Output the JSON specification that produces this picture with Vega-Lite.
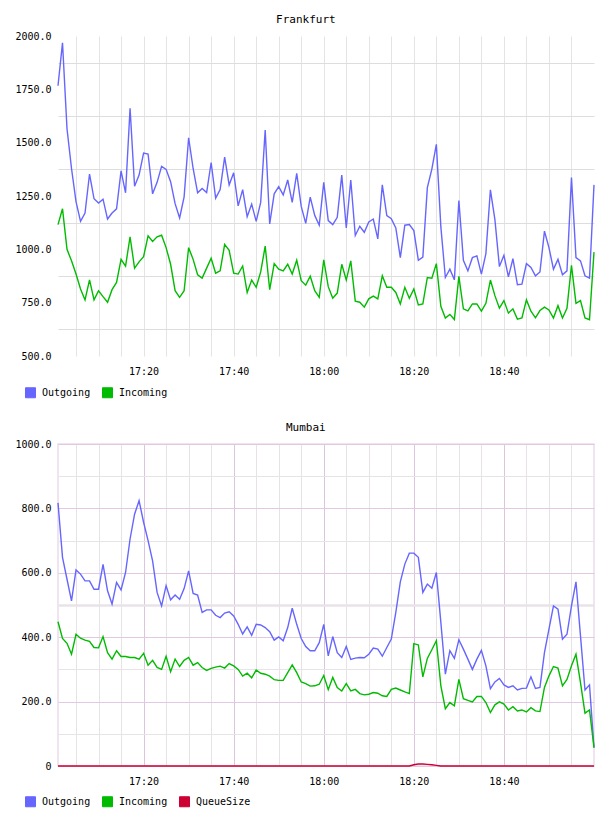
{
  "$schema": "https://vega.github.io/schema/vega-lite/v6.json",
  "background": "white",
  "padding": {"left": 14, "top": 14, "right": 10, "bottom": 4},
  "spacing": 21,
  "config": {
    "font": "DejaVu Sans Mono",
    "view": {"stroke": null},
    "axis": {
      "labelFont": "DejaVu Sans Mono",
      "labelFontSize": 10,
      "labelColor": "#000000",
      "ticks": false,
      "domain": false,
      "labelOverlap": false,
      "labelFlush": false
    },
    "title": {
      "font": "DejaVu Sans Mono",
      "fontSize": 11,
      "fontWeight": "normal",
      "color": "#000000",
      "anchor": "middle",
      "frame": "bounds",
      "offset": 6
    },
    "legend": {
      "orient": "none",
      "legendX": -33,
      "direction": "horizontal",
      "padding": 0,
      "symbolType": "square",
      "symbolSize": 100,
      "labelFont": "DejaVu Sans Mono",
      "labelFontSize": 10,
      "labelColor": "#000000",
      "labelOffset": 6,
      "columnPadding": 9
    }
  },
  "datasets": {
    "frankfurt": [
      {"t": "17:01", "Outgoing": 1767, "Incoming": 1116},
      {"t": "17:02", "Outgoing": 1968, "Incoming": 1190},
      {"t": "17:03", "Outgoing": 1565, "Incoming": 1000},
      {"t": "17:04", "Outgoing": 1379, "Incoming": 946},
      {"t": "17:05", "Outgoing": 1224, "Incoming": 884},
      {"t": "17:06", "Outgoing": 1131, "Incoming": 814},
      {"t": "17:07", "Outgoing": 1170, "Incoming": 763},
      {"t": "17:08", "Outgoing": 1353, "Incoming": 857},
      {"t": "17:09", "Outgoing": 1237, "Incoming": 763},
      {"t": "17:10", "Outgoing": 1217, "Incoming": 806},
      {"t": "17:11", "Outgoing": 1235, "Incoming": 778},
      {"t": "17:12", "Outgoing": 1142, "Incoming": 752},
      {"t": "17:13", "Outgoing": 1170, "Incoming": 811},
      {"t": "17:14", "Outgoing": 1190, "Incoming": 845},
      {"t": "17:15", "Outgoing": 1368, "Incoming": 953},
      {"t": "17:16", "Outgoing": 1265, "Incoming": 921},
      {"t": "17:17", "Outgoing": 1661, "Incoming": 1059},
      {"t": "17:18", "Outgoing": 1296, "Incoming": 912},
      {"t": "17:19", "Outgoing": 1348, "Incoming": 941},
      {"t": "17:20", "Outgoing": 1451, "Incoming": 966},
      {"t": "17:21", "Outgoing": 1446, "Incoming": 1063},
      {"t": "17:22", "Outgoing": 1260, "Incoming": 1037},
      {"t": "17:23", "Outgoing": 1314, "Incoming": 1059},
      {"t": "17:24", "Outgoing": 1389, "Incoming": 1066},
      {"t": "17:25", "Outgoing": 1375, "Incoming": 1008},
      {"t": "17:26", "Outgoing": 1317, "Incoming": 930},
      {"t": "17:27", "Outgoing": 1214, "Incoming": 806},
      {"t": "17:28", "Outgoing": 1147, "Incoming": 775},
      {"t": "17:29", "Outgoing": 1246, "Incoming": 806},
      {"t": "17:30", "Outgoing": 1523, "Incoming": 1008},
      {"t": "17:31", "Outgoing": 1379, "Incoming": 953},
      {"t": "17:32", "Outgoing": 1265, "Incoming": 881},
      {"t": "17:33", "Outgoing": 1285, "Incoming": 865},
      {"t": "17:34", "Outgoing": 1266, "Incoming": 912},
      {"t": "17:35", "Outgoing": 1407, "Incoming": 958},
      {"t": "17:36", "Outgoing": 1240, "Incoming": 888},
      {"t": "17:37", "Outgoing": 1280, "Incoming": 899},
      {"t": "17:38", "Outgoing": 1432, "Incoming": 1023},
      {"t": "17:39", "Outgoing": 1302, "Incoming": 995},
      {"t": "17:40", "Outgoing": 1359, "Incoming": 888},
      {"t": "17:41", "Outgoing": 1204, "Incoming": 884},
      {"t": "17:42", "Outgoing": 1280, "Incoming": 922},
      {"t": "17:43", "Outgoing": 1153, "Incoming": 798},
      {"t": "17:44", "Outgoing": 1212, "Incoming": 856},
      {"t": "17:45", "Outgoing": 1131, "Incoming": 822},
      {"t": "17:46", "Outgoing": 1220, "Incoming": 894},
      {"t": "17:47", "Outgoing": 1559, "Incoming": 1015},
      {"t": "17:48", "Outgoing": 1119, "Incoming": 811},
      {"t": "17:49", "Outgoing": 1260, "Incoming": 933},
      {"t": "17:50", "Outgoing": 1294, "Incoming": 907},
      {"t": "17:51", "Outgoing": 1255, "Incoming": 899},
      {"t": "17:52", "Outgoing": 1325, "Incoming": 930},
      {"t": "17:53", "Outgoing": 1220, "Incoming": 884},
      {"t": "17:54", "Outgoing": 1356, "Incoming": 949},
      {"t": "17:55", "Outgoing": 1201, "Incoming": 853},
      {"t": "17:56", "Outgoing": 1122, "Incoming": 832},
      {"t": "17:57", "Outgoing": 1245, "Incoming": 874},
      {"t": "17:58", "Outgoing": 1159, "Incoming": 806},
      {"t": "17:59", "Outgoing": 1113, "Incoming": 775},
      {"t": "18:00", "Outgoing": 1314, "Incoming": 951},
      {"t": "18:01", "Outgoing": 1135, "Incoming": 825},
      {"t": "18:02", "Outgoing": 1116, "Incoming": 771},
      {"t": "18:03", "Outgoing": 1150, "Incoming": 795},
      {"t": "18:04", "Outgoing": 1348, "Incoming": 930},
      {"t": "18:05", "Outgoing": 1100, "Incoming": 856},
      {"t": "18:06", "Outgoing": 1325, "Incoming": 946},
      {"t": "18:07", "Outgoing": 1065, "Incoming": 757},
      {"t": "18:08", "Outgoing": 1108, "Incoming": 752},
      {"t": "18:09", "Outgoing": 1080, "Incoming": 729},
      {"t": "18:10", "Outgoing": 1128, "Incoming": 768},
      {"t": "18:11", "Outgoing": 1142, "Incoming": 781},
      {"t": "18:12", "Outgoing": 1049, "Incoming": 768},
      {"t": "18:13", "Outgoing": 1302, "Incoming": 876},
      {"t": "18:14", "Outgoing": 1158, "Incoming": 822},
      {"t": "18:15", "Outgoing": 1144, "Incoming": 822},
      {"t": "18:16", "Outgoing": 1100, "Incoming": 798},
      {"t": "18:17", "Outgoing": 961, "Incoming": 744},
      {"t": "18:18", "Outgoing": 1113, "Incoming": 822},
      {"t": "18:19", "Outgoing": 1116, "Incoming": 771},
      {"t": "18:20", "Outgoing": 1088, "Incoming": 814},
      {"t": "18:21", "Outgoing": 949, "Incoming": 739},
      {"t": "18:22", "Outgoing": 964, "Incoming": 744},
      {"t": "18:23", "Outgoing": 1289, "Incoming": 868},
      {"t": "18:24", "Outgoing": 1376, "Incoming": 865},
      {"t": "18:25", "Outgoing": 1492, "Incoming": 933},
      {"t": "18:26", "Outgoing": 1105, "Incoming": 733},
      {"t": "18:27", "Outgoing": 868, "Incoming": 678},
      {"t": "18:28", "Outgoing": 907, "Incoming": 695},
      {"t": "18:29", "Outgoing": 857, "Incoming": 671},
      {"t": "18:30", "Outgoing": 1229, "Incoming": 873},
      {"t": "18:31", "Outgoing": 949, "Incoming": 721},
      {"t": "18:32", "Outgoing": 899, "Incoming": 712},
      {"t": "18:33", "Outgoing": 961, "Incoming": 744},
      {"t": "18:34", "Outgoing": 969, "Incoming": 744},
      {"t": "18:35", "Outgoing": 884, "Incoming": 710},
      {"t": "18:36", "Outgoing": 980, "Incoming": 747},
      {"t": "18:37", "Outgoing": 1279, "Incoming": 856},
      {"t": "18:38", "Outgoing": 1139, "Incoming": 783},
      {"t": "18:39", "Outgoing": 919, "Incoming": 724},
      {"t": "18:40", "Outgoing": 972, "Incoming": 760},
      {"t": "18:41", "Outgoing": 871, "Incoming": 701},
      {"t": "18:42", "Outgoing": 956, "Incoming": 721},
      {"t": "18:43", "Outgoing": 834, "Incoming": 673},
      {"t": "18:44", "Outgoing": 837, "Incoming": 678},
      {"t": "18:45", "Outgoing": 933, "Incoming": 763},
      {"t": "18:46", "Outgoing": 915, "Incoming": 710},
      {"t": "18:47", "Outgoing": 876, "Incoming": 679},
      {"t": "18:48", "Outgoing": 894, "Incoming": 713},
      {"t": "18:49", "Outgoing": 1085, "Incoming": 729},
      {"t": "18:50", "Outgoing": 1008, "Incoming": 716},
      {"t": "18:51", "Outgoing": 907, "Incoming": 678},
      {"t": "18:52", "Outgoing": 953, "Incoming": 736},
      {"t": "18:53", "Outgoing": 881, "Incoming": 678},
      {"t": "18:54", "Outgoing": 899, "Incoming": 724},
      {"t": "18:55", "Outgoing": 1336, "Incoming": 925},
      {"t": "18:56", "Outgoing": 961, "Incoming": 747},
      {"t": "18:57", "Outgoing": 946, "Incoming": 760},
      {"t": "18:58", "Outgoing": 876, "Incoming": 678},
      {"t": "18:59", "Outgoing": 865, "Incoming": 670},
      {"t": "19:00", "Outgoing": 1302, "Incoming": 987}
    ],
    "mumbai": [
      {"t": "17:01", "Outgoing": 817, "Incoming": 448, "QueueSize": 0},
      {"t": "17:02", "Outgoing": 648, "Incoming": 396, "QueueSize": 0},
      {"t": "17:03", "Outgoing": 580, "Incoming": 381, "QueueSize": 0},
      {"t": "17:04", "Outgoing": 513, "Incoming": 347, "QueueSize": 0},
      {"t": "17:05", "Outgoing": 609, "Incoming": 409, "QueueSize": 0},
      {"t": "17:06", "Outgoing": 596, "Incoming": 397, "QueueSize": 0},
      {"t": "17:07", "Outgoing": 575, "Incoming": 391, "QueueSize": 0},
      {"t": "17:08", "Outgoing": 575, "Incoming": 387, "QueueSize": 0},
      {"t": "17:09", "Outgoing": 549, "Incoming": 368, "QueueSize": 0},
      {"t": "17:10", "Outgoing": 549, "Incoming": 367, "QueueSize": 0},
      {"t": "17:11", "Outgoing": 626, "Incoming": 402, "QueueSize": 0},
      {"t": "17:12", "Outgoing": 544, "Incoming": 352, "QueueSize": 0},
      {"t": "17:13", "Outgoing": 503, "Incoming": 332, "QueueSize": 0},
      {"t": "17:14", "Outgoing": 570, "Incoming": 358, "QueueSize": 0},
      {"t": "17:15", "Outgoing": 547, "Incoming": 340, "QueueSize": 0},
      {"t": "17:16", "Outgoing": 601, "Incoming": 340, "QueueSize": 0},
      {"t": "17:17", "Outgoing": 705, "Incoming": 337, "QueueSize": 0},
      {"t": "17:18", "Outgoing": 782, "Incoming": 337, "QueueSize": 0},
      {"t": "17:19", "Outgoing": 824, "Incoming": 332, "QueueSize": 0},
      {"t": "17:20", "Outgoing": 757, "Incoming": 350, "QueueSize": 0},
      {"t": "17:21", "Outgoing": 700, "Incoming": 313, "QueueSize": 0},
      {"t": "17:22", "Outgoing": 637, "Incoming": 328, "QueueSize": 0},
      {"t": "17:23", "Outgoing": 539, "Incoming": 306, "QueueSize": 0},
      {"t": "17:24", "Outgoing": 497, "Incoming": 300, "QueueSize": 0},
      {"t": "17:25", "Outgoing": 560, "Incoming": 341, "QueueSize": 0},
      {"t": "17:26", "Outgoing": 516, "Incoming": 293, "QueueSize": 0},
      {"t": "17:27", "Outgoing": 531, "Incoming": 332, "QueueSize": 0},
      {"t": "17:28", "Outgoing": 518, "Incoming": 309, "QueueSize": 0},
      {"t": "17:29", "Outgoing": 551, "Incoming": 328, "QueueSize": 0},
      {"t": "17:30", "Outgoing": 606, "Incoming": 337, "QueueSize": 0},
      {"t": "17:31", "Outgoing": 536, "Incoming": 313, "QueueSize": 0},
      {"t": "17:32", "Outgoing": 531, "Incoming": 321, "QueueSize": 0},
      {"t": "17:33", "Outgoing": 477, "Incoming": 306, "QueueSize": 0},
      {"t": "17:34", "Outgoing": 485, "Incoming": 297, "QueueSize": 0},
      {"t": "17:35", "Outgoing": 485, "Incoming": 303, "QueueSize": 0},
      {"t": "17:36", "Outgoing": 468, "Incoming": 307, "QueueSize": 0},
      {"t": "17:37", "Outgoing": 461, "Incoming": 310, "QueueSize": 0},
      {"t": "17:38", "Outgoing": 475, "Incoming": 304, "QueueSize": 0},
      {"t": "17:39", "Outgoing": 479, "Incoming": 318, "QueueSize": 0},
      {"t": "17:40", "Outgoing": 466, "Incoming": 311, "QueueSize": 0},
      {"t": "17:41", "Outgoing": 440, "Incoming": 300, "QueueSize": 0},
      {"t": "17:42", "Outgoing": 410, "Incoming": 279, "QueueSize": 0},
      {"t": "17:43", "Outgoing": 432, "Incoming": 288, "QueueSize": 0},
      {"t": "17:44", "Outgoing": 406, "Incoming": 274, "QueueSize": 0},
      {"t": "17:45", "Outgoing": 440, "Incoming": 298, "QueueSize": 0},
      {"t": "17:46", "Outgoing": 438, "Incoming": 288, "QueueSize": 0},
      {"t": "17:47", "Outgoing": 430, "Incoming": 285, "QueueSize": 0},
      {"t": "17:48", "Outgoing": 417, "Incoming": 279, "QueueSize": 0},
      {"t": "17:49", "Outgoing": 391, "Incoming": 268, "QueueSize": 0},
      {"t": "17:50", "Outgoing": 401, "Incoming": 266, "QueueSize": 0},
      {"t": "17:51", "Outgoing": 389, "Incoming": 266, "QueueSize": 0},
      {"t": "17:52", "Outgoing": 430, "Incoming": 290, "QueueSize": 0},
      {"t": "17:53", "Outgoing": 490, "Incoming": 314, "QueueSize": 0},
      {"t": "17:54", "Outgoing": 440, "Incoming": 290, "QueueSize": 0},
      {"t": "17:55", "Outgoing": 396, "Incoming": 261, "QueueSize": 0},
      {"t": "17:56", "Outgoing": 371, "Incoming": 256, "QueueSize": 0},
      {"t": "17:57", "Outgoing": 358, "Incoming": 248, "QueueSize": 0},
      {"t": "17:58", "Outgoing": 358, "Incoming": 249, "QueueSize": 0},
      {"t": "17:59", "Outgoing": 383, "Incoming": 254, "QueueSize": 0},
      {"t": "18:00", "Outgoing": 440, "Incoming": 281, "QueueSize": 0},
      {"t": "18:01", "Outgoing": 342, "Incoming": 237, "QueueSize": 0},
      {"t": "18:02", "Outgoing": 402, "Incoming": 275, "QueueSize": 0},
      {"t": "18:03", "Outgoing": 352, "Incoming": 244, "QueueSize": 0},
      {"t": "18:04", "Outgoing": 337, "Incoming": 233, "QueueSize": 0},
      {"t": "18:05", "Outgoing": 371, "Incoming": 256, "QueueSize": 0},
      {"t": "18:06", "Outgoing": 331, "Incoming": 233, "QueueSize": 0},
      {"t": "18:07", "Outgoing": 335, "Incoming": 238, "QueueSize": 0},
      {"t": "18:08", "Outgoing": 337, "Incoming": 225, "QueueSize": 0},
      {"t": "18:09", "Outgoing": 336, "Incoming": 221, "QueueSize": 0},
      {"t": "18:10", "Outgoing": 347, "Incoming": 223, "QueueSize": 0},
      {"t": "18:11", "Outgoing": 366, "Incoming": 228, "QueueSize": 0},
      {"t": "18:12", "Outgoing": 363, "Incoming": 226, "QueueSize": 0},
      {"t": "18:13", "Outgoing": 341, "Incoming": 218, "QueueSize": 0},
      {"t": "18:14", "Outgoing": 368, "Incoming": 216, "QueueSize": 0},
      {"t": "18:15", "Outgoing": 394, "Incoming": 238, "QueueSize": 0},
      {"t": "18:16", "Outgoing": 477, "Incoming": 242, "QueueSize": 0},
      {"t": "18:17", "Outgoing": 572, "Incoming": 236, "QueueSize": 0},
      {"t": "18:18", "Outgoing": 627, "Incoming": 230, "QueueSize": 0},
      {"t": "18:19", "Outgoing": 661, "Incoming": 225, "QueueSize": 0},
      {"t": "18:20", "Outgoing": 661, "Incoming": 380, "QueueSize": 4},
      {"t": "18:21", "Outgoing": 648, "Incoming": 376, "QueueSize": 6},
      {"t": "18:22", "Outgoing": 539, "Incoming": 277, "QueueSize": 6},
      {"t": "18:23", "Outgoing": 565, "Incoming": 334, "QueueSize": 5},
      {"t": "18:24", "Outgoing": 552, "Incoming": 361, "QueueSize": 4},
      {"t": "18:25", "Outgoing": 601, "Incoming": 389, "QueueSize": 2},
      {"t": "18:26", "Outgoing": 446, "Incoming": 249, "QueueSize": 0},
      {"t": "18:27", "Outgoing": 285, "Incoming": 178, "QueueSize": 0},
      {"t": "18:28", "Outgoing": 358, "Incoming": 197, "QueueSize": 0},
      {"t": "18:29", "Outgoing": 334, "Incoming": 187, "QueueSize": 0},
      {"t": "18:30", "Outgoing": 392, "Incoming": 269, "QueueSize": 0},
      {"t": "18:31", "Outgoing": 363, "Incoming": 209, "QueueSize": 0},
      {"t": "18:32", "Outgoing": 332, "Incoming": 204, "QueueSize": 0},
      {"t": "18:33", "Outgoing": 300, "Incoming": 199, "QueueSize": 0},
      {"t": "18:34", "Outgoing": 332, "Incoming": 216, "QueueSize": 0},
      {"t": "18:35", "Outgoing": 359, "Incoming": 216, "QueueSize": 0},
      {"t": "18:36", "Outgoing": 311, "Incoming": 197, "QueueSize": 0},
      {"t": "18:37", "Outgoing": 240, "Incoming": 166, "QueueSize": 0},
      {"t": "18:38", "Outgoing": 261, "Incoming": 190, "QueueSize": 0},
      {"t": "18:39", "Outgoing": 272, "Incoming": 199, "QueueSize": 0},
      {"t": "18:40", "Outgoing": 252, "Incoming": 192, "QueueSize": 0},
      {"t": "18:41", "Outgoing": 244, "Incoming": 174, "QueueSize": 0},
      {"t": "18:42", "Outgoing": 249, "Incoming": 184, "QueueSize": 0},
      {"t": "18:43", "Outgoing": 236, "Incoming": 171, "QueueSize": 0},
      {"t": "18:44", "Outgoing": 241, "Incoming": 174, "QueueSize": 0},
      {"t": "18:45", "Outgoing": 242, "Incoming": 168, "QueueSize": 0},
      {"t": "18:46", "Outgoing": 277, "Incoming": 181, "QueueSize": 0},
      {"t": "18:47", "Outgoing": 241, "Incoming": 171, "QueueSize": 0},
      {"t": "18:48", "Outgoing": 244, "Incoming": 169, "QueueSize": 0},
      {"t": "18:49", "Outgoing": 352, "Incoming": 244, "QueueSize": 0},
      {"t": "18:50", "Outgoing": 425, "Incoming": 280, "QueueSize": 0},
      {"t": "18:51", "Outgoing": 497, "Incoming": 309, "QueueSize": 0},
      {"t": "18:52", "Outgoing": 487, "Incoming": 304, "QueueSize": 0},
      {"t": "18:53", "Outgoing": 394, "Incoming": 249, "QueueSize": 0},
      {"t": "18:54", "Outgoing": 409, "Incoming": 269, "QueueSize": 0},
      {"t": "18:55", "Outgoing": 497, "Incoming": 311, "QueueSize": 0},
      {"t": "18:56", "Outgoing": 572, "Incoming": 347, "QueueSize": 0},
      {"t": "18:57", "Outgoing": 404, "Incoming": 259, "QueueSize": 0},
      {"t": "18:58", "Outgoing": 236, "Incoming": 164, "QueueSize": 0},
      {"t": "18:59", "Outgoing": 252, "Incoming": 174, "QueueSize": 0},
      {"t": "19:00", "Outgoing": 57, "Incoming": 57, "QueueSize": 0}
    ]
  },
  "vconcat": [
    {
      "title": "Frankfurt",
      "width": 536,
      "height": 320,
      "data": {"name": "frankfurt", "format": {"parse": {"t": "utc:'%H:%M'"}}},
      "transform": [{"fold": ["Outgoing", "Incoming"], "as": ["series", "value"]}],
      "mark": {"type": "line", "strokeWidth": 1.4},
      "encoding": {
        "x": {
          "field": "t",
          "type": "temporal",
          "scale": {"type": "utc"},
          "axis": {
            "title": null,
            "values": [-2208927300000, -2208927000000, -2208926700000, -2208926400000, -2208926100000, -2208925800000, -2208925500000, -2208925200000, -2208924900000, -2208924600000, -2208924300000, -2208924000000, -2208923700000, -2208923400000, -2208923100000, -2208922800000, -2208922500000, -2208922200000, -2208921900000, -2208921600000, -2208921300000, -2208921000000, -2208920700000],
            "labelExpr": "utcminutes(datum.value) % 20 === 0 ? utcFormat(datum.value, '%H:%M') : ''",
            "grid": true,
            "gridColor": "#e4e4e4",
            "labelPadding": 10
          }
        },
        "y": {
          "field": "value",
          "type": "quantitative",
          "scale": {"domain": [500, 2000]},
          "axis": {
            "title": null,
            "values": [500, 625, 750, 875, 1000, 1125, 1250, 1375, 1500, 1625, 1750, 1875, 2000],
            "labelExpr": "datum.value % 250 === 0 ? format(datum.value, '.1f') : ''",
            "grid": true,
            "gridColor": "#dddddd",
            "gridOpacity": {"condition": {"test": "datum.value % 250 === 0", "value": 0}, "value": 1},
            "labelPadding": 7
          }
        },
        "color": {
          "field": "series",
          "type": "nominal",
          "scale": {"domain": ["Outgoing", "Incoming"], "range": ["#6666ff", "#00bb00"]},
          "legend": {
            "title": null,
            "legendY": 351,
            "encode": {
              "symbols": {
                "update": {
                  "fill": {"signal": "datum.value === 'Outgoing' ? '#6666ff' : '#00bb00'"},
                  "stroke": {"value": "#999999"},
                  "strokeWidth": {"value": 1},
                  "opacity": {"value": 1}
                }
              }
            }
          }
        }
      }
    },
    {
      "title": "Mumbai",
      "width": 536,
      "height": 322,
      "view": {"stroke": "#ecdcec", "strokeWidth": 1.5},
      "data": {"name": "mumbai", "format": {"parse": {"t": "utc:'%H:%M'"}}},
      "transform": [{"fold": ["Outgoing", "Incoming", "QueueSize"], "as": ["series", "value"]}],
      "mark": {"type": "line", "strokeWidth": 1.4},
      "encoding": {
        "x": {
          "field": "t",
          "type": "temporal",
          "scale": {"type": "utc"},
          "axis": {
            "title": null,
            "values": [-2208927300000, -2208927000000, -2208926700000, -2208926400000, -2208926100000, -2208925800000, -2208925500000, -2208925200000, -2208924900000, -2208924600000, -2208924300000, -2208924000000, -2208923700000, -2208923400000, -2208923100000, -2208922800000, -2208922500000, -2208922200000, -2208921900000, -2208921600000, -2208921300000, -2208921000000, -2208920700000],
            "labelExpr": "utcminutes(datum.value) % 20 === 0 ? utcFormat(datum.value, '%H:%M') : ''",
            "grid": true,
            "gridColor": {"condition": {"test": "utcminutes(datum.value) % 20 === 0", "value": "#dcc4dc"}, "value": "#e6e2e6"},
            "labelPadding": 10
          }
        },
        "y": {
          "field": "value",
          "type": "quantitative",
          "scale": {"domain": [0, 1000]},
          "axis": {
            "title": null,
            "values": [0, 100, 200, 300, 400, 500, 600, 700, 800, 900, 1000],
            "labelExpr": "datum.value % 200 === 0 ? (datum.value === 0 ? '0' : format(datum.value, '.1f')) : ''",
            "grid": true,
            "gridColor": {"condition": {"test": "datum.value % 200 === 0", "value": "#e2c8e2"}, "value": "#e8e3e8"},
            "gridWidth": {"condition": {"test": "datum.value === 500", "value": 2.5}, "value": 1},
            "labelPadding": 7
          }
        },
        "color": {
          "field": "series",
          "type": "nominal",
          "scale": {"domain": ["Outgoing", "Incoming", "QueueSize"], "range": ["#6666ff", "#00bb00", "#cc0033"]},
          "legend": {
            "title": null,
            "legendY": 352,
            "labelExpr": "datum.label === 'Incoming' ? datum.label + '\u00a0\u00a0' : datum.label",
            "encode": {
              "symbols": {
                "update": {
                  "fill": {"signal": "datum.value === 'Outgoing' ? '#6666ff' : datum.value === 'Incoming' ? '#00bb00' : '#cc0033'"},
                  "stroke": {"value": "#999999"},
                  "strokeWidth": {"value": 1},
                  "opacity": {"value": 1}
                }
              }
            }
          }
        }
      }
    }
  ],
  "resolve": {"scale": {"color": "independent", "x": "independent", "y": "independent"}}
}
